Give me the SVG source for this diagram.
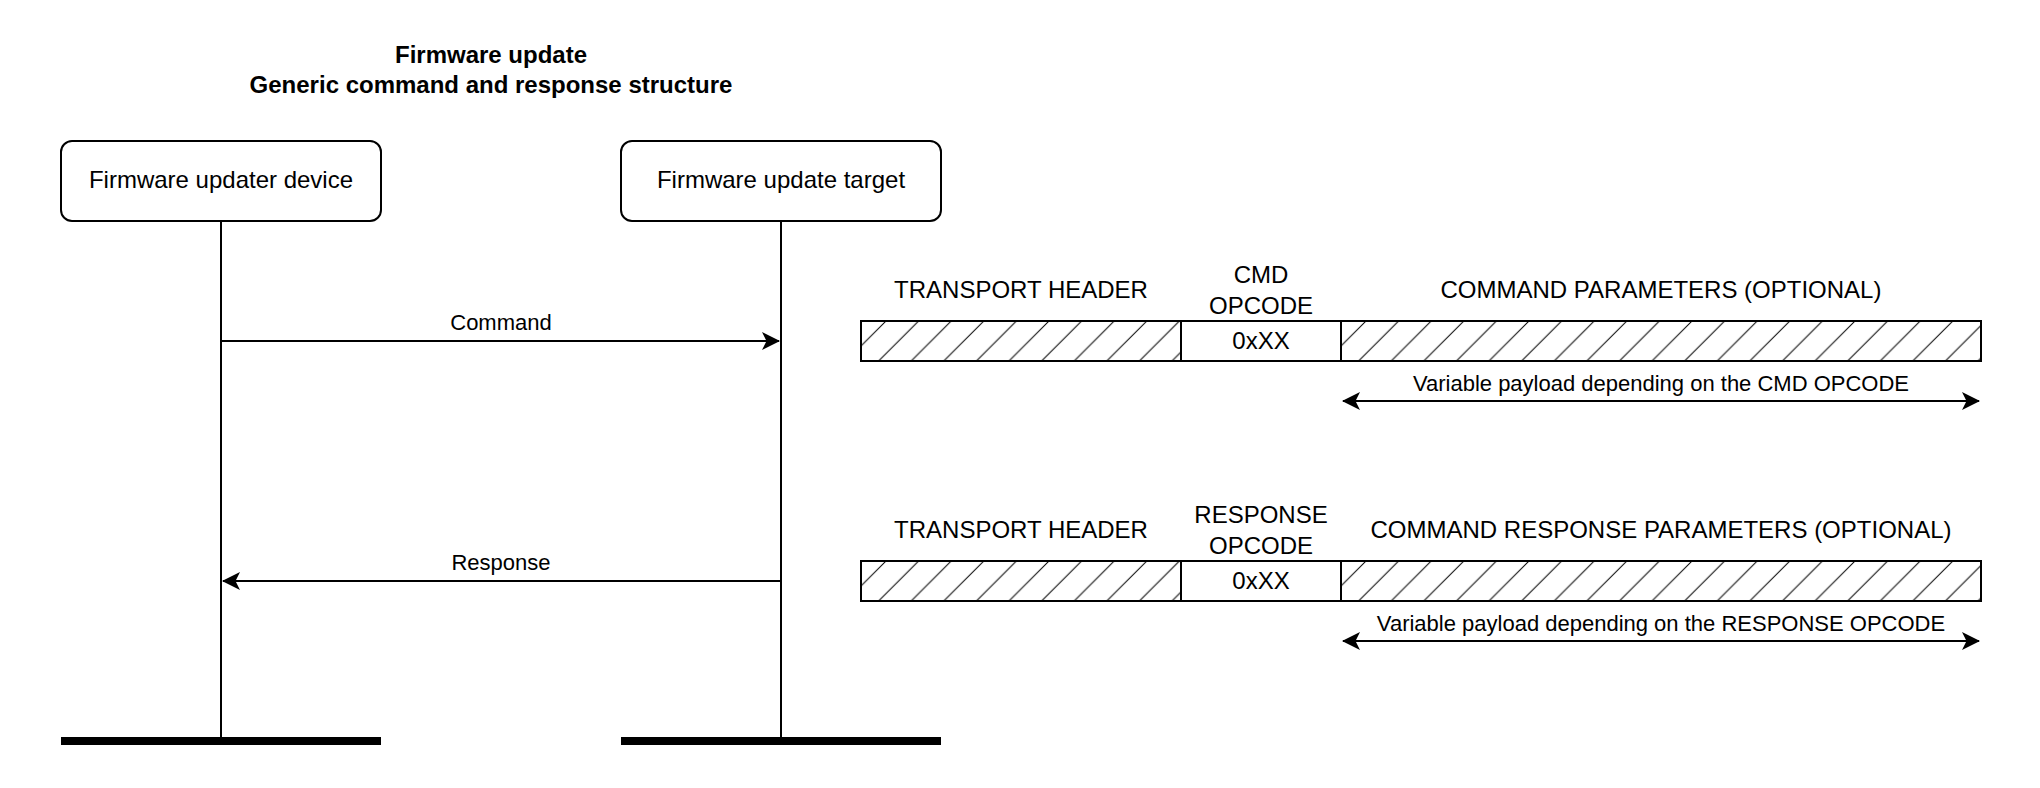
<svg xmlns="http://www.w3.org/2000/svg" width="2040" height="788" viewBox="0 0 2040 788">
  <style>
    text { font-family: "Liberation Sans", Arial, Helvetica, sans-serif; fill: #000; }
    .t24 { font-size: 24px; text-anchor: middle; }
    .t22 { font-size: 22px; text-anchor: middle; }
    .title { font-size: 24px; font-weight: bold; text-anchor: middle; }
    .box { fill: #fff; stroke: #000; stroke-width: 2; }
    .line { fill: none; stroke: #000; stroke-width: 2; }
    .bar { fill: #000; }
    .hatch { fill: url(#hatch); stroke: none; }
    .frame { fill: none; stroke: #000; stroke-width: 2; }
  </style>
  <defs>
    <pattern id="hatch" patternUnits="userSpaceOnUse" x="25" y="0" width="32.6" height="32.6">
      <path d="M0,32.6 L32.6,0 M-2,2 L2,-2 M30.6,34.6 L34.6,30.6" stroke="#000" stroke-width="1" fill="none"/>
    </pattern>
    <marker id="arrow" markerUnits="userSpaceOnUse" viewBox="0 0 18 18" markerWidth="18" markerHeight="18" refX="17" refY="9" orient="auto-start-reverse">
      <path d="M0,0 L18,9 L0,18 L4.5,9 Z" fill="#000"/>
    </marker>
  </defs>

  <rect width="2040" height="788" fill="#fff"/>

  <g id="title">
    <text class="title" x="491" y="63">Firmware update</text>
    <text class="title" x="491" y="93">Generic command and response structure</text>
  </g>

  <g id="updater-device">
    <line class="line" x1="221" y1="221" x2="221" y2="737"/>
    <rect class="box" x="61" y="141" width="320" height="80" rx="11" ry="11"/>
    <text class="t24" x="221" y="188">Firmware updater device</text>
    <rect class="bar" x="61" y="737" width="320" height="8"/>
  </g>

  <g id="update-target">
    <line class="line" x1="781" y1="221" x2="781" y2="737"/>
    <rect class="box" x="621" y="141" width="320" height="80" rx="11" ry="11"/>
    <text class="t24" x="781" y="188">Firmware update target</text>
    <rect class="bar" x="621" y="737" width="320" height="8"/>
  </g>

  <g id="command-frame">
    <rect x="861" y="321" width="1120" height="40" fill="#fff"/>
    <rect class="hatch" transform="translate(861,321)" width="320" height="40"/>
    <rect class="hatch" transform="translate(1341,321)" width="640" height="40"/>
    <rect class="frame" x="861" y="321" width="1120" height="40"/>
    <line class="line" x1="1181" y1="321" x2="1181" y2="361"/>
    <line class="line" x1="1341" y1="321" x2="1341" y2="361"/>
    <text class="t24" x="1021" y="298">TRANSPORT HEADER</text>
    <text class="t24" x="1261" y="283">CMD</text>
    <text class="t24" x="1261" y="314">OPCODE</text>
    <text class="t24" x="1261" y="349">0xXX</text>
    <text class="t24" x="1661" y="298">COMMAND PARAMETERS (OPTIONAL)</text>
    <text class="t22" x="1661" y="391">Variable payload depending on the CMD OPCODE</text>
  </g>

  <g id="response-frame">
    <rect x="861" y="561" width="1120" height="40" fill="#fff"/>
    <rect class="hatch" transform="translate(861,561)" width="320" height="40"/>
    <rect class="hatch" transform="translate(1341,561)" width="640" height="40"/>
    <rect class="frame" x="861" y="561" width="1120" height="40"/>
    <line class="line" x1="1181" y1="561" x2="1181" y2="601"/>
    <line class="line" x1="1341" y1="561" x2="1341" y2="601"/>
    <text class="t24" x="1021" y="538">TRANSPORT HEADER</text>
    <text class="t24" x="1261" y="523">RESPONSE</text>
    <text class="t24" x="1261" y="554">OPCODE</text>
    <text class="t24" x="1261" y="589">0xXX</text>
    <text class="t24" x="1661" y="538">COMMAND RESPONSE PARAMETERS (OPTIONAL)</text>
    <text class="t22" x="1661" y="631">Variable payload depending on the RESPONSE OPCODE</text>
  </g>

  <g id="connectors">
    <line class="line" x1="221" y1="341" x2="779" y2="341" marker-end="url(#arrow)"/>
    <text class="t22" x="501" y="330">Command</text>
    <line class="line" x1="781" y1="581" x2="223" y2="581" marker-end="url(#arrow)"/>
    <text class="t22" x="501" y="570">Response</text>
    <line class="line" x1="1343" y1="401" x2="1979" y2="401" marker-start="url(#arrow)" marker-end="url(#arrow)"/>
    <line class="line" x1="1343" y1="641" x2="1979" y2="641" marker-start="url(#arrow)" marker-end="url(#arrow)"/>
  </g>
</svg>
